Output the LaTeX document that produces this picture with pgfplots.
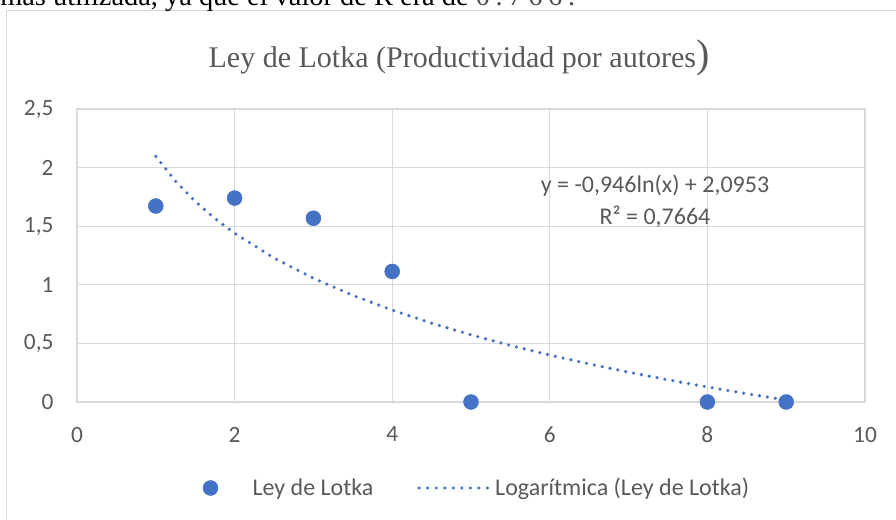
\documentclass[border=0pt]{standalone}
\usepackage{pgfplots}
\pgfplotsset{compat=1.18}
\usepackage{fontspec}
\setmainfont{Carlito}
\newfontfamily\tnr{Liberation Serif}
\definecolor{dotblue}{HTML}{4472C4}
\definecolor{gridc}{HTML}{D9D9D9}
\definecolor{txt}{HTML}{595959}
\begin{document}
\begin{tikzpicture}[x=0.75pt,y=0.75pt]
\useasboundingbox (0,0) rectangle (896,520);
\clip (0,0) rectangle (896,520);
\fill[white] (0,0) rectangle (896,520);
\draw[gridc, line width=1pt] (6.5,-10) -- (6.5,509.5) -- (906,509.5);
\node[anchor=base west, inner sep=0pt, font=\tnr\fontsize{21.3}{25}\selectfont] at (0,514.3) {más utilizada, ya que el valor de R era de {\color{black!70}\addfontfeature{LetterSpace=20}0.766.}};
\node[anchor=base, inner sep=0pt, text=txt, font=\tnr\fontsize{22.5}{26}\selectfont] at (459,452) {Ley de Lotka (Productividad por autores{\fontsize{30}{30}\selectfont)}};
\begin{axis}[
  at={(57.75pt,88.5pt)}, anchor=south west,
  scale only axis, width=591pt, height=219.75pt,
  xmin=0, xmax=10, ymin=0, ymax=2.5,
  xtick={0,2,4,6,8,10}, ytick={0,0.5,1,1.5,2,2.5},
  grid=major, major grid style={gridc, line width=1pt},
  axis line style={gridc, line width=1pt},
  major tick length=0pt,
  /pgf/number format/use comma,
  /pgf/number format/assume math mode=true,
  ticklabel style={font=\fontsize{17.5}{20}\selectfont, text=txt},
  yticklabel style={anchor=east, inner sep=0pt, xshift=-17.5pt},
  xticklabel style={anchor=north, inner sep=0pt, yshift=-18.5pt},
  legend columns=2,
  legend style={at={(axis description cs:0.1593,-0.2935)}, anchor=west, draw=none, fill=none,
    inner sep=0pt, font=\fontsize{18}{21}\selectfont, text=txt,
    nodes={inner sep=0pt},
    /tikz/every odd column/.append style={column sep=4.5pt},
    /tikz/every even column/.append style={column sep=33pt}},
  legend cell align=left,
  clip=false,
]
\addplot[only marks, mark=*, mark size=5.6pt, color=dotblue, mark options={draw=dotblue, fill=dotblue},
  legend image code/.code={\path[draw=none, fill=none] (-5.6pt,-5.6pt) rectangle (27pt,5.6pt); \fill[dotblue] (0pt,0pt) circle (5.6pt);}]
coordinates {(1,1.672) (2,1.740) (3,1.568) (4,1.114) (5,0) (8,0) (9,0)};
\addlegendentry{Ley de Lotka}
\addplot[dotblue, line width=2.7pt, line cap=round, dash pattern=on 0pt off 6pt,
  legend image code/.code={\draw[dotblue, line width=2.6pt, line cap=round, dash pattern=on 0pt off 6.4pt] (0pt,0pt) -- (51.2pt,0pt);}]
coordinates {(1,2.0953) (1.25,1.8842) (1.5,1.7117) (1.75,1.5659) (2,1.4396) (2.5,1.2285) (3,1.0560) (3.5,0.9102) (4,0.7839) (4.5,0.6724) (5,0.5728) (5.5,0.4826) (6,0.4003) (6.5,0.3246) (7,0.2545) (7.5,0.1892) (8,0.1282) (8.5,0.0708) (9,0.0167)};
\addlegendentry{Logarítmica (Ley de Lotka)}
\node[align=center, inner sep=0pt, text=txt, font=\fontsize{18}{23.8}\selectfont] at (axis cs:7.335,1.715) {y = -0,946ln(x) + 2,0953\\R² = 0,7664};
\end{axis}
\end{tikzpicture}
\end{document}
